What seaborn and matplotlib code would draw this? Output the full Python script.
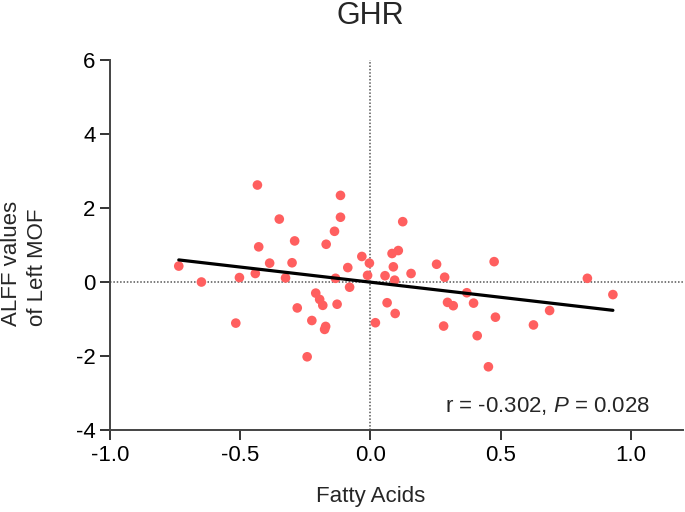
import numpy as np
import pandas as pd
import seaborn as sns
import matplotlib
matplotlib.use("Agg")
import matplotlib.pyplot as plt

fatty_acids = [-0.434, -0.115, -0.350, -0.115, -0.138, -0.291, 0.124, -0.429, -0.170, -0.033,
               -0.736, -0.387, -0.301, -0.087, -0.004, 0.083, 0.107, -0.442, -0.326, -0.503,
               -0.649, -0.134, -0.011, 0.056, 0.088, 0.093, -0.080, -0.210, -0.195, -0.183,
               -0.128, -0.281, 0.064, 0.095, -0.517, -0.225, 0.019, -0.172, -0.176, -0.243,
               0.156, 0.254, 0.285, 0.475, 0.833, 0.931, 0.370, 0.296, 0.318, 0.396,
               0.480, 0.688, 0.626, 0.281, 0.410, 0.453]
alff_left_mof = [2.62, 2.34, 1.70, 1.75, 1.37, 1.11, 1.63, 0.95, 1.02, 0.69,
                 0.43, 0.51, 0.52, 0.39, 0.51, 0.77, 0.85, 0.23, 0.11, 0.12,
                 0.00, 0.10, 0.18, 0.17, 0.41, 0.05, -0.14, -0.30, -0.47, -0.63,
                 -0.60, -0.70, -0.56, -0.85, -1.11, -1.04, -1.10, -1.20, -1.28, -2.02,
                 0.23, 0.48, 0.13, 0.55, 0.10, -0.34, -0.29, -0.55, -0.64, -0.57,
                 -0.95, -0.77, -1.16, -1.19, -1.45, -2.29]
x_ticks = [-1.0, -0.5, 0.0, 0.5, 1.0]
y_ticks = [-4, -2, 0, 2, 4, 6]

data = pd.DataFrame({'Fatty Acids': fatty_acids, 'ALFF': alff_left_mof})

sns.set_theme(style="ticks")
plt.rcParams['font.family'] = ['Liberation Sans', 'DejaVu Sans']
plt.rcParams['axes.unicode_minus'] = False
plt.rcParams['mathtext.fontset'] = 'custom'
plt.rcParams['mathtext.rm'] = 'Liberation Sans'
plt.rcParams['mathtext.it'] = 'Liberation Sans:italic'

fig = plt.figure(figsize=(6.85, 5.12), dpi=100)
ax = fig.add_axes([0.1606, 0.160, 0.8364, 0.723])

ax.axhline(0, color='#555555', linestyle=(0, (1, 1.2)), linewidth=1.1, zorder=1)
ax.axvline(0, color='#555555', linestyle=(0, (1, 1.2)), linewidth=1.1, zorder=1)

sns.regplot(data=data, x='Fatty Acids', y='ALFF', ci=None, ax=ax,
            scatter_kws=dict(color='#FF5F5F', s=48, alpha=1, edgecolor='none', zorder=3),
            line_kws=dict(color='black', linewidth=2.3, zorder=4))

ax.set_xlim(-1.0, 1.2)
ax.set_ylim(-4, 6)
ax.set_xticks(x_ticks)
ax.set_xticklabels([f'{t:.1f}' for t in x_ticks])
ax.set_yticks(y_ticks)
ax.tick_params(labelsize=16, length=7, width=1.4, colors='#333333', labelcolor='black')
for side in ['left', 'bottom']:
    ax.spines[side].set_linewidth(1.4)
    ax.spines[side].set_color('#444444')
sns.despine(ax=ax)

# title and x label sit over the x = 0 line, like the original
fig.text(370 / 685, 1 - 24 / 512, 'GHR', fontsize=22, ha='center', va='baseline')
ax.set_xlabel('Fatty Acids', fontsize=16)
ax.xaxis.set_label_coords(0.4555, -0.152)
ax.set_ylabel('ALFF values\nof Left MOF', fontsize=16, multialignment='left', linespacing=1.3)
ax.yaxis.set_label_coords(-0.108, 0.45)
ax.text(0.942, 0.0486, r'r = -0.302, $\mathit{P}$ = 0.028', transform=ax.transAxes,
        ha='right', va='baseline', fontsize=16)

plt.savefig('out.png', dpi=100)
